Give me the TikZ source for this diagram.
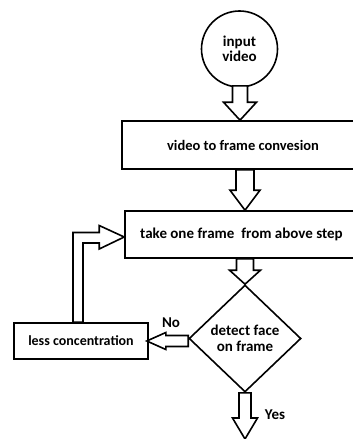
\documentclass[tikz,border=0pt]{standalone}
\usepackage{fontspec}
\setmainfont{Carlito}
\usetikzlibrary{shapes.geometric,calc}
\tikzset{
  box/.style={draw,line width=1.6pt,rectangle,inner sep=0pt,font=\bfseries\fontsize{15}{17}\selectfont},
  startc/.style={draw,line width=1.6pt,circle,inner sep=0pt,minimum size=76pt,align=center,font=\bfseries\fontsize{15}{14.5}\selectfont},
  decide/.style={draw,line width=1.6pt,diamond,inner sep=0pt,minimum width=112pt,minimum height=107pt,align=center,font=\bfseries\fontsize{15}{16}\selectfont},
  lbl/.style={font=\bfseries\fontsize{15}{17}\selectfont,inner sep=0pt},
  blk/.style={draw,line width=1.6pt,line join=miter,fill=white}
}
\newcommand\blkdown[5]{%
  \draw[blk] let \p1=(#1), \p2=(#2) in
    (\x2-#3,\y1) -- (\x2-#3,\y2+#5) -- (\x2-#4,\y2+#5) -- (\x2,\y2)
    -- (\x2+#4,\y2+#5) -- (\x2+#3,\y2+#5) -- (\x2+#3,\y1) -- cycle;}
\newcommand\blkleft[5]{%
  \draw[blk] let \p1=(#1), \p2=(#2) in
    (\x1,\y2+#3) -- (\x2+#5,\y2+#3) -- (\x2+#5,\y2+#4) -- (\x2,\y2)
    -- (\x2+#5,\y2-#4) -- (\x2+#5,\y2-#3) -- (\x1,\y2-#3) -- cycle;}
\begin{document}
\begin{tikzpicture}[x=1pt,y=-1pt]
\useasboundingbox (0,0) rectangle (353,439);
\clip (0,0) rectangle (353,439);
\node[startc] (in) at (239.5,49) {input\\video};
\node[box,minimum width=236pt,minimum height=48pt,font=\bfseries\fontsize{14.5}{17}\selectfont] (conv) at (240,145) {\hspace{6pt}video to frame convesion};
\node[box,minimum width=233pt,minimum height=47pt] (take) at (241.5,234.5) {take one frame\hspace{7pt}from above step};
\node[decide] (det) at (245,338.5) {detect face\\on frame};
\node[box,minimum width=134pt,minimum height=36pt,font=\bfseries\fontsize{14}{17}\selectfont] (less) at (81,341) {less concentration};
\coordinate (yesend) at (245,439);
\node[lbl] (no) at (171,323) {No};
\node[lbl] (yes) at (275,415) {Yes};
% arrows
\blkdown{$(in.south)+(0,-2)$}{$(conv.north)+(0,0)$}{7.5pt}{16.5pt}{18pt}
\blkdown{conv.south}{$(take.north)+(3.5,0)$}{9pt}{15pt}{20pt}
\blkdown{take.south}{det.north}{8.5pt}{15.5pt}{14pt}
\blkdown{det.south}{yesend}{6pt}{12.5pt}{21pt}
\blkleft{det.west}{$(less.east)+(-2,0)$}{5.5pt}{8.5pt}{19pt}
\draw[blk] let \p1=(less.north), \p2=(take.west) in
  (\x1-8pt,\y1) -- (\x1-8pt,\y2+2pt) -- (\x2-25pt,\y2+2pt) -- (\x2-25pt,\y2+9pt)
  -- (\x2,\y2-2.5pt) -- (\x2-25pt,\y2-14.5pt) -- (\x2-25pt,\y2-8.5pt)
  -- (\x1+2pt,\y2-8.5pt) -- (\x1+2pt,\y1) -- cycle;
\end{tikzpicture}
\end{document}
